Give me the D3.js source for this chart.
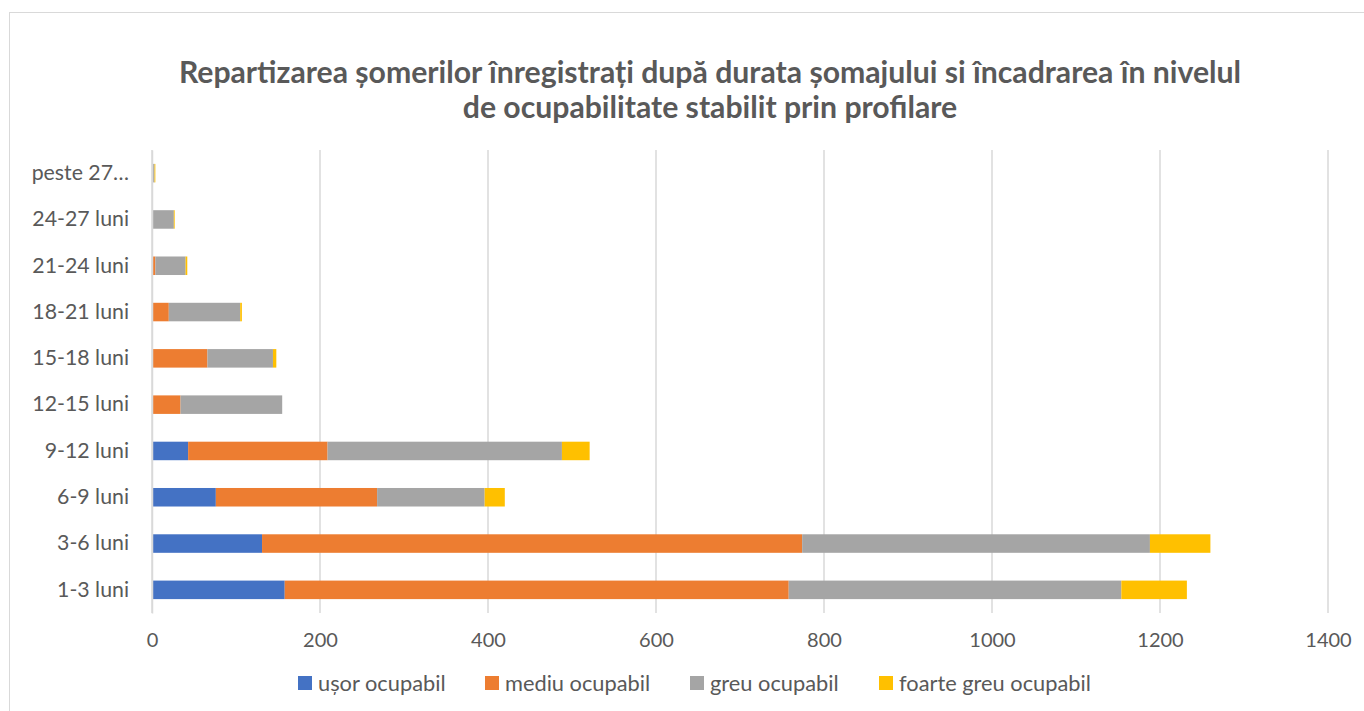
<!DOCTYPE html>
<html><head><meta charset="utf-8">
<script src="https://cdn.jsdelivr.net/npm/d3@7"></script>
<style>body{margin:0;background:#fff;} svg{display:block;}</style>
</head><body>
<svg id="c" width="1364" height="711"></svg>
<script>
const categories = ["1-3 luni","3-6 luni","6-9 luni","9-12 luni","12-15 luni","15-18 luni","18-21 luni","21-24 luni","24-27 luni","peste 27 luni"];
const seriesNames = ["ușor ocupabil","mediu ocupabil","greu ocupabil","foarte greu ocupabil"];
const usor   = [158, 131, 76, 43, 0, 0, 0, 0, 0, 0];
const mediu  = [600, 643, 192, 166, 34, 66, 20, 4, 0, 0];
const greu   = [396, 414, 128, 279, 121, 78, 85, 36, 26, 3];
const foarte = [78, 72, 24, 33, 0, 4, 2, 2, 1, 1];
const xTicks = [0,200,400,600,800,1000,1200,1400];
const colors = ["#4472C4","#ED7D31","#A5A5A5","#FFC000"];
const titleLines = ["Repartizarea șomerilor înregistrați după durata șomajului si încadrarea în nivelul","de ocupabilitate stabilit prin profilare"];

const FONT = "Lato, 'Open Sans', sans-serif";
const svg = d3.select("#c");
// frame
svg.append("rect").attr("x",9.5).attr("y",12.5).attr("width",1400).attr("height",800)
  .attr("fill","none").attr("stroke","#d9d9d9");

// title
svg.append("g").selectAll("text").data(titleLines).join("text")
  .attr("x",710).attr("y",(d,i)=>83+i*35).attr("text-anchor","middle")
  .attr("font-family",FONT).attr("font-weight","bold").attr("font-size",30.2).attr("fill","#595959")
  .text(d=>d);

const rows = categories.map((c,i)=>({cat:c, "ușor ocupabil":usor[i], "mediu ocupabil":mediu[i], "greu ocupabil":greu[i], "foarte greu ocupabil":foarte[i]}));
const stack = d3.stack().keys(seriesNames)(rows);

const x = d3.scaleLinear().domain([0,1400]).range([152,1328]);
const y = d3.scaleBand().domain(categories).range([613,150]).paddingInner(0.6).paddingOuter(0.3);

// gridlines
svg.append("g").selectAll("line").data(xTicks).join("line")
  .attr("x1",d=>x(d)).attr("x2",d=>x(d)).attr("y1",150).attr("y2",613)
  .attr("stroke","#d9d9d9").attr("stroke-width",1.5);

// bars
svg.append("g").selectAll("g").data(stack).join("g").attr("fill",(d,i)=>colors[i])
  .selectAll("rect").data(d=>d).join("rect")
  .attr("x",d=>x(d[0])).attr("width",d=>Math.max(0,x(d[1])-x(d[0])))
  .attr("y",d=>y(d.data.cat)).attr("height",y.bandwidth());

// x axis
const xa = svg.append("g").attr("transform","translate(0,613)")
  .call(d3.axisBottom(x).tickValues(xTicks).tickSize(0).tickPadding(20).tickFormat(d3.format("d")));
xa.select(".domain").remove();
xa.selectAll("text").attr("font-family",FONT).attr("font-size",20).attr("fill","#595959");

// y axis
const ya = svg.append("g").attr("transform","translate(152,0)")
  .call(d3.axisLeft(y).tickSize(0).tickPadding(23).tickFormat(d=> d==="peste 27 luni" ? "peste 27…" : d));
ya.select(".domain").attr("stroke","#d9d9d9").attr("stroke-width",1.5);
ya.selectAll("text").attr("font-family",FONT).attr("font-size",21.3).attr("fill","#595959");

// legend
const legX = [298, 485, 690, 879];
const lg = svg.append("g").selectAll("g").data(seriesNames).join("g")
  .attr("transform",(d,i)=>`translate(${legX[i]},676)`);
lg.append("rect").attr("width",14).attr("height",14).attr("fill",(d,i)=>colors[i]);
lg.append("text").attr("x",20).attr("y",7).attr("dy","0.35em")
  .attr("font-family",FONT).attr("font-size",21.8).attr("fill","#595959").text(d=>d);
</script>
</body></html>
